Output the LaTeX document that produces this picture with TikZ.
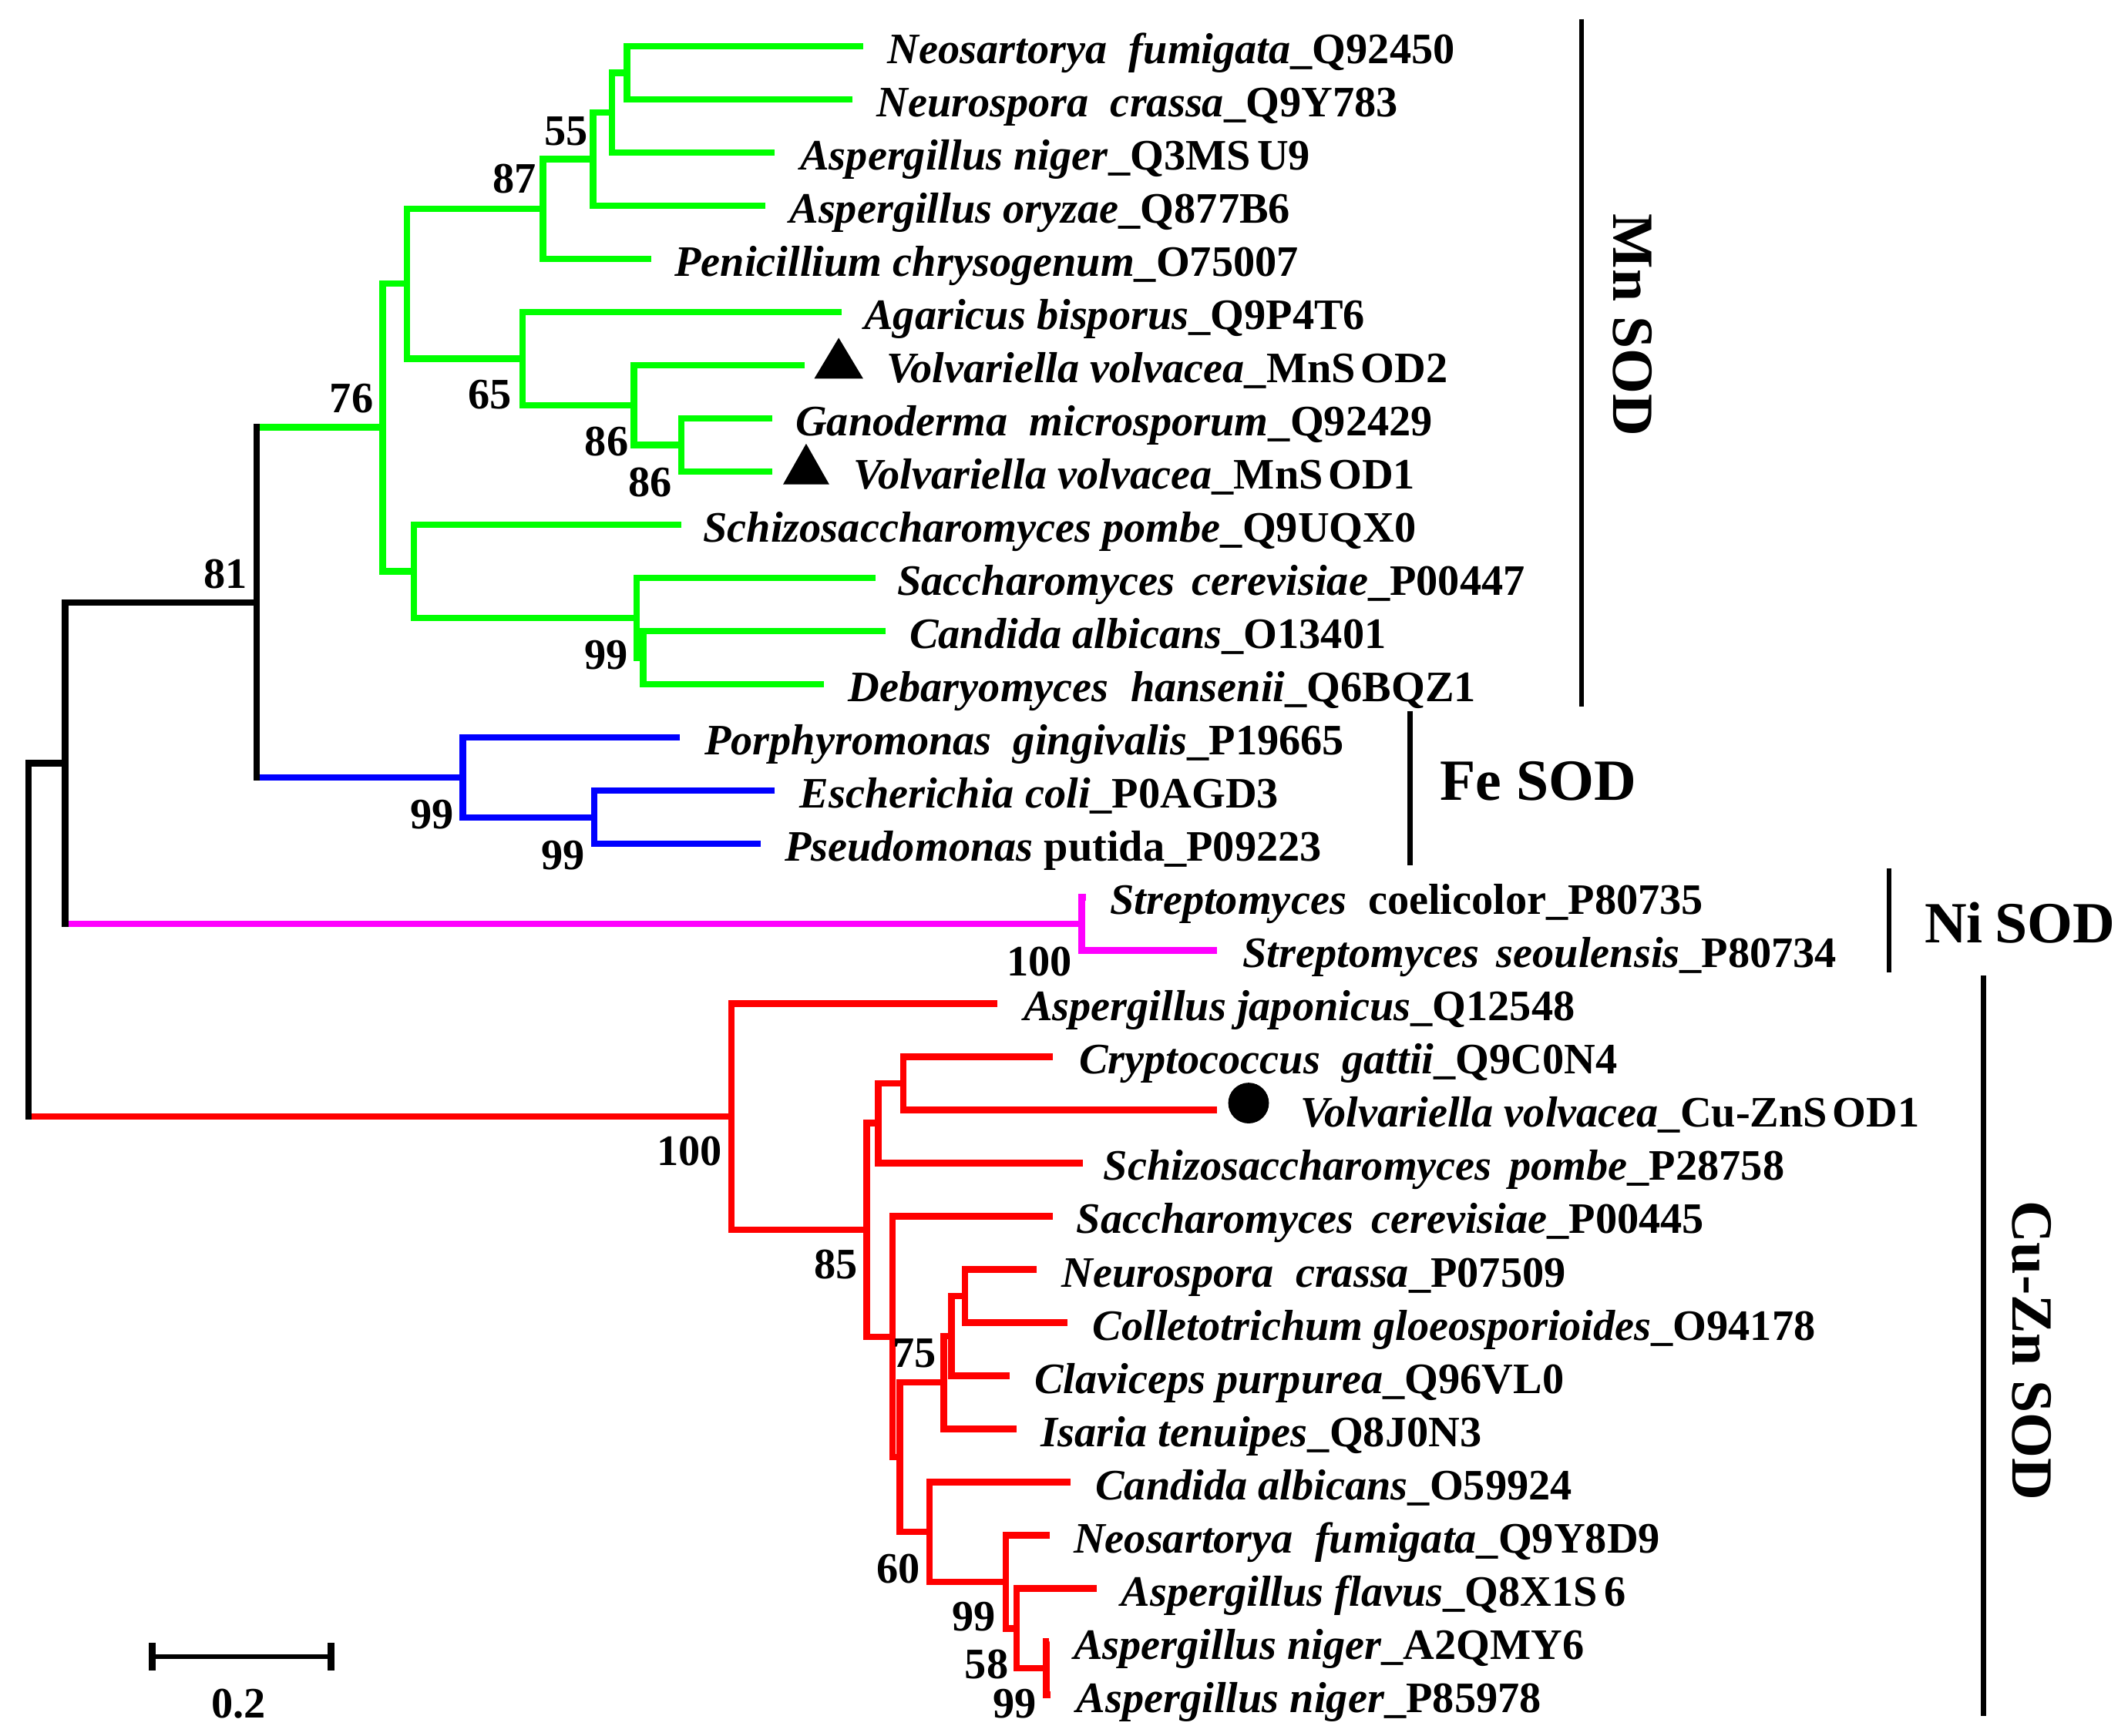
\documentclass[tikz,border=0pt]{standalone}
\usepackage{fontspec}
\setmainfont{Liberation Serif}
\definecolor{grn}{RGB}{0,255,0}
\definecolor{blu}{RGB}{0,0,255}
\definecolor{mag}{RGB}{255,0,255}
\definecolor{rd}{RGB}{255,0,0}
\newcommand\taxon[2]{\textit{#1}#2}
\newcommand\leaf[5]{%
  \coordinate (L#1) at (#2,#3);
  \node[tx] (T#1) at (#4,#3+12.8) {#5};}
\begin{document}
\begin{tikzpicture}[x=1pt,y=-1pt,
  br/.style={line width=4.8pt},
  gbr/.style={br,draw=grn},
  bbr/.style={br,draw=blu},
  mbr/.style={br,draw=mag},
  rbr/.style={br,draw=rd},
  kbr/.style={br,draw=black},
  tx/.style={anchor=base west,inner sep=0pt,font=\fontsize{32}{38}\selectfont\bfseries},
  bs/.style={anchor=base,inner sep=0pt,font=\fontsize{32}{38}\selectfont\bfseries},
  grp/.style={inner sep=0pt,font=\fontsize{43}{50}\selectfont\bfseries},
  bar/.style={line width=3.6pt}]
\useasboundingbox (0,0) rectangle (1568,1279);

% ---- leaves ----
\leaf{0}{636}{34}{654}{\taxon{Neosartorya\ \ fumigata}{\_Q92450}}
\leaf{1}{628}{73.2}{645.7}{\taxon{Neurospora\ \ crassa}{\_Q9Y783}}
\leaf{2}{571}{112.4}{589.5}{\taxon{Aspergillus niger}{\_Q3MS\hspace{0.15em}U9}}
\leaf{3}{564}{151.6}{581.6}{\taxon{Aspergillus oryzae}{\_Q877B6}}
\leaf{4}{480}{190.8}{497}{\taxon{Penicillium chrysogenum}{\_O75007}}
\leaf{5}{620}{230}{636.6}{\taxon{Agaricus bisporus}{\_Q9P4T6}}
\leaf{6}{593}{269.2}{653}{\taxon{Volvariella volvacea}{\_MnS\hspace{0.12em}OD2}}
\leaf{7}{569}{308.4}{586}{\taxon{Ganoderma\ \ microsporum}{\_Q92429}}
\leaf{8}{569}{347.6}{629}{\taxon{Volvariella volvacea}{\_MnS\hspace{0.12em}OD1}}
\leaf{9}{502}{386.8}{518}{\taxon{Schizosaccharomyces pombe}{\_Q9UQX0}}
\leaf{10}{645}{426}{661}{\taxon{Saccharomyces\hspace{0.4em}cerevisiae}{\_P00447}}
\leaf{11}{652.6}{465.2}{670}{\taxon{Candida albicans}{\_O13401}}
\leaf{12}{607}{504.4}{625}{\taxon{Debaryomyces\ \ hansenii}{\_Q6BQZ1}}
\leaf{13}{501}{543.6}{519}{\taxon{Porphyromonas\ \ gingivalis}{\_P19665}}
\leaf{14}{571}{582.8}{589}{\taxon{Escherichia coli}{\_P0AGD3}}
\leaf{15}{560.5}{622}{578}{\taxon{Pseudomonas}{ putida\_P09223}}
\leaf{16}{800}{661.2}{817.7}{\taxon{Streptomyces}{\ \ coelicolor\_P80735}}
\leaf{17}{897}{700.4}{915.5}{\taxon{Streptomyces\hspace{0.4em}seoulensis}{\_P80734}}
\leaf{18}{735}{739.6}{754}{\taxon{Aspergillus japonicus}{\_Q12548}}
\leaf{19}{775.5}{778.8}{795}{\taxon{Cryptococcus\ \ gattii}{\_Q9C0N4}}
\leaf{20}{897}{818}{958}{\taxon{Volvariella volvacea}{\_Cu-ZnS\hspace{0.12em}OD1}}
\leaf{21}{798}{857.2}{813}{\taxon{Schizosaccharomyces\hspace{0.4em}pombe}{\_P28758}}
\leaf{22}{775.5}{896.4}{793}{\taxon{Saccharomyces\hspace{0.4em}cerevisiae}{\_P00445}}
\leaf{23}{764}{935.6}{782}{\taxon{Neurospora\ \ crassa}{\_P07509}}
\leaf{24}{786.6}{974.8}{805}{\taxon{Colletotrichum gloeosporioides}{\_O94178}}
\leaf{25}{744}{1014}{762}{\taxon{Claviceps purpurea}{\_Q96VL0}}
\leaf{26}{749}{1053.2}{767}{\taxon{Isaria tenuipes}{\_Q8J0N3}}
\leaf{27}{788.7}{1092.4}{807}{\taxon{Candida albicans}{\_O59924}}
\leaf{28}{773.5}{1131.6}{791}{\taxon{Neosartorya\ \ fumigata}{\_Q9Y8D9}}
\leaf{29}{808}{1170.8}{826}{\taxon{Aspergillus flavus}{\_Q8X1S\hspace{0.15em}6}}
\leaf{30}{773}{1210}{791}{\taxon{Aspergillus niger}{\_A2QMY6}}
\leaf{31}{774}{1249.2}{793}{\taxon{Aspergillus niger}{\_P85978}}

% ---- internal nodes ----
\coordinate (a) at (462,53.6);
\coordinate (b) at (451,83);
\coordinate (c) at (437,117.3);
\coordinate (d) at (400,154);
\coordinate (i) at (502,328);
\coordinate (h) at (467,298.6);
\coordinate (g) at (385,264.3);
\coordinate (e) at (300,209);
\coordinate (k2) at (474,484.8);
\coordinate (k1) at (469,455.4);
\coordinate (j) at (305,421.1);
\coordinate (f) at (282,315);
\coordinate (m) at (438,602.4);
\coordinate (l) at (341,573);
\coordinate (F) at (189,444);
\coordinate (ni) at (797,680.8);
\coordinate (B) at (48,562.4);
\coordinate (q) at (665.5,798.4);
\coordinate (p) at (647,827.8);
\coordinate (s) at (711,955.2);
\coordinate (t) at (701,984.6);
\coordinate (u) at (695.5,1018.9);
\coordinate (z) at (771,1229.6);
\coordinate (yy) at (749,1200.2);
\coordinate (xx) at (741,1165.9);
\coordinate (w) at (685,1129.1);
\coordinate (v) at (663,1074);
\coordinate (r) at (657.5,985.2);
\coordinate (o) at (638.5,906.5);
\coordinate (N) at (539,823);
\coordinate (R) at (21,692.7);

% ---- Mn SOD (green) ----
\draw[gbr] (L0) -| (a) |- (L1);
\draw[gbr] (a) -| (b) |- (L2);
\draw[gbr] (b) -| (c) |- (L3);
\draw[gbr] (c) -| (d) |- (L4);
\draw[gbr] (L7) -| (i) |- (L8);
\draw[gbr] (L6) -| (h) |- (i);
\draw[gbr] (L5) -| (g) |- (h);
\draw[gbr] (d) -| (e) |- (g);
\draw[gbr] (L11) -| (k2) |- (L12);
\draw[gbr] (L10) -| (k1) |- (k2);
\draw[gbr] (L9) -| (j) |- (k1);
\draw[gbr] (e) -| (f) |- (j);
% ---- Fe SOD (blue) ----
\draw[bbr] (L14) -| (m) |- (L15);
\draw[bbr] (L13) -| (l) |- (m);
% ---- Ni SOD (magenta) ----
\draw[mbr] (L16) -| (ni) |- (L17);
% ---- Cu-Zn SOD (red) ----
\draw[rbr] (L19) -| (q) |- (L20);
\draw[rbr] (q) -| (p) |- (L21);
\draw[rbr] (L23) -| (s) |- (L24);
\draw[rbr] (s) -| (t) |- (L25);
\draw[rbr] (t) -| (u) |- (L26);
\draw[rbr] (L30) -| (z) |- (L31);
\draw[rbr] (L29) -| (yy) |- (z);
\draw[rbr] (L28) -| (xx) |- (yy);
\draw[rbr] (L27) -| (w) |- (xx);
\draw[rbr] (u) -| (v) |- (w);
\draw[rbr] (L22) -| (r) |- (v);
\draw[rbr] (p) -| (o) |- (r);
\draw[rbr] (L18) -| (N) |- (o);
% ---- deep (black) branches ----
\draw[gbr] (F |- f) -- (f);
\draw[bbr] (F |- l) -- (l);
\draw[kbr,line cap=rect] (F |- f) -- (F |- l);
\draw[kbr] (B |- F) -- (F);
\draw[mbr] (B |- ni) -- (ni);
\draw[kbr,line cap=rect] (B |- F) -- (B |- ni);
\draw[kbr] (R |- B) -- (B);
\draw[rbr] (R |- N) -- (N);
\draw[kbr,line cap=rect] (R |- B) -- (R |- N);

% ---- markers ----
\fill (618,249) -- (600,279) -- (636,279) -- cycle;
\fill (594,327) -- (577,357) -- (611,357) -- cycle;
\fill (920,813) circle (15);

% ---- bootstrap values ----
\node[bs] (s81) at (166,433.6) {81};
\node[bs] (s55) at (417,107) {55};
\node[bs] (s87) at (379,142) {87};
\node[bs] (s76) at (259,304) {76};
\node[bs] (s65) at (361,301) {65};
\node[bs] (s86a) at (447,336) {86};
\node[bs] (s86b) at (479,366) {86};
\node[bs] (s99a) at (446.5,493) {99};
\node[bs] (s99b) at (318.5,611) {99};
\node[bs] (s99c) at (414.7,641) {99};
\node[bs] (s100a) at (766,719) {100};
\node[bs] (s100b) at (508,859) {100};
\node[bs] (s85) at (616,942.6) {85};
\node[bs] (s75) at (674,1008) {75};
\node[bs] (s60) at (662,1167) {60};
\node[bs] (s99d) at (717.8,1202) {99};
\node[bs] (s58) at (727,1237) {58};
\node[bs] (s99e) at (747.5,1266) {99};

% ---- group bars and labels ----
\coordinate (mn1) at (1165.5,14);  \coordinate (mn2) at (1165.5,521);
\coordinate (fe1) at (1039,524);   \coordinate (fe2) at (1039,638);
\coordinate (ni1) at (1392,640);   \coordinate (ni2) at (1392,716.5);
\coordinate (cz1) at (1461.5,719); \coordinate (cz2) at (1461.5,1265);
\draw[bar] (mn1) -- (mn2);
\draw[bar] (fe1) -- (fe2);
\draw[bar] (ni1) -- (ni2);
\draw[bar] (cz1) -- (cz2);
\node[grp,rotate=-90] (gMn) at (1203,239.5) {Mn SOD};
\node[grp,anchor=base west] (gFe) at (1061,589.5) {Fe SOD};
\node[grp,anchor=base west] (gNi) at (1418,694.7) {Ni\hspace{0.2em}SOD};
\node[grp,rotate=-90] (gCu) at (1497,995.5) {Cu-Zn SOD};

% ---- scale bar ----
\coordinate (sb1) at (112,1221);
\coordinate (sb2) at (244,1221);
\draw[line width=3.6pt] (sb1) -- (sb2);
\draw[line width=5pt] ([yshift=10pt]sb1) -- ([yshift=-10pt]sb1);
\draw[line width=5pt] ([yshift=10pt]sb2) -- ([yshift=-10pt]sb2);
\node[bs] (sbl) at (176,1266) {0.2};
\end{tikzpicture}
\end{document}
